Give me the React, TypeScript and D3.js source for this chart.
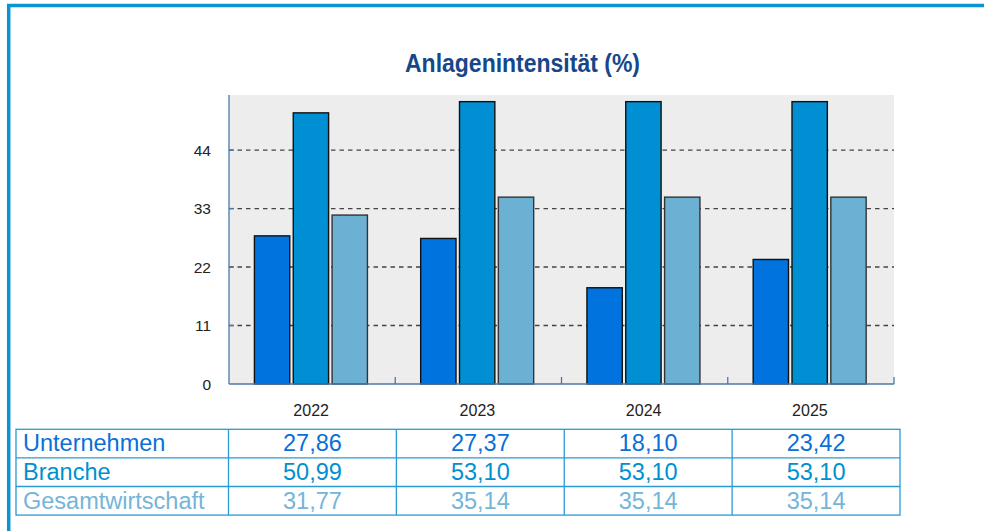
import React from "react";
import * as d3 from "d3";

const years = ["2022", "2023", "2024", "2025"];
const seriesNames = ["Unternehmen", "Branche", "Gesamtwirtschaft"];
const unternehmen = [27.86, 27.37, 18.1, 23.42];
const branche = [50.99, 53.1, 53.1, 53.1];
const gesamtwirtschaft = [31.77, 35.14, 35.14, 35.14];
const yTicks = [0, 11, 22, 33, 44];
const title = "Anlagenintensität (%)";

const seriesValues = [unternehmen, branche, gesamtwirtschaft];
const barColors = ["#0073df", "#008fd2", "#6cb1d4"];
const barStrokes = ["#111", "#111", "#333"];
const textColors = ["#0a6fd8", "#0090d0", "#74b5d8"];

const fmt = (v: number) => v.toFixed(2).replace(".", ",");

export default function App() {
  const W = 984, H = 531;
  const plot = { left: 229, right: 894, top: 95, bottom: 384 };
  const x0 = d3.scaleBand<string>().domain(years).range([plot.left, plot.right]).padding(0);
  const x1 = d3.scaleBand<string>().domain(seriesNames).range([0, 113]).paddingInner(0.09).paddingOuter(0);
  const y = d3.scaleLinear().domain([0, 54.35]).range([plot.bottom, plot.top]);

  const tbl = { left: 16, firstRight: 228.5, right: 900, top: 429.3, rowH: 28.6 };
  const tx = d3.scaleBand<string>().domain(years).range([tbl.firstRight, tbl.right]);
  const axisColor = "#4a78a8";
  const tableColor = "#2a9ad5";

  return (
    <svg width={W} height={H} style={{ position: "absolute", left: 0, top: 0, background: "#fff" }}
      fontFamily="'Liberation Sans', Arial, sans-serif">
      {/* frame */}
      <path d={`M8.7,${H + 5} V5.6 H${W + 5}`} fill="none" stroke="#0a94d4" strokeWidth={3.5} />
      {/* title */}
      <text x={522.5} y={71.5} textAnchor="middle" fontSize={25} fontWeight="bold" fill="#17478a"
        textLength={235} lengthAdjust="spacingAndGlyphs">{title}</text>
      {/* plot background */}
      <rect x={plot.left} y={plot.top} width={plot.right - plot.left} height={plot.bottom - plot.top} fill="#ededed" />
      {/* gridlines */}
      {yTicks.filter(t => t > 0).map(t => (
        <g key={"g" + t}>
          <line x1={plot.left} x2={plot.right} y1={y(t)} y2={y(t)} stroke="#444" strokeWidth={1.3} strokeDasharray="4.5,4" />
          <line x1={plot.left} x2={plot.left + 5} y1={y(t)} y2={y(t)} stroke={axisColor} strokeWidth={1.3} />
        </g>
      ))}
      {/* bars */}
      {years.map((yr, i) => (
        <g key={yr} transform={`translate(${(x0(yr) as number) + x0.bandwidth() / 2 - 56.5 - 1.2},0)`}>
          {seriesNames.map((s, j) => (
            <rect key={s} x={x1(s)} y={y(seriesValues[j][i])} width={x1.bandwidth()}
              height={plot.bottom - y(seriesValues[j][i])} fill={barColors[j]} stroke={barStrokes[j]} strokeWidth={1.4} />
          ))}
        </g>
      ))}
      {/* axes */}
      <line x1={plot.left} x2={plot.left} y1={plot.top} y2={plot.bottom} stroke={axisColor} strokeWidth={1.3} />
      <line x1={plot.left} x2={plot.right} y1={plot.bottom} y2={plot.bottom} stroke={axisColor} strokeWidth={1.3} />
      {years.map(yr => (
        <line key={"t" + yr} x1={(x0(yr) as number) + x0.bandwidth()} x2={(x0(yr) as number) + x0.bandwidth()}
          y1={plot.bottom} y2={plot.bottom - 7} stroke={axisColor} strokeWidth={1.3} />
      ))}
      {yTicks.map(t => (
        <text key={"yl" + t} x={211} y={y(t) + 5.5} textAnchor="end" fontSize={15.5} fill="#222">{t}</text>
      ))}
      {years.map(yr => (
        <text key={"xl" + yr} x={(x0(yr) as number) + x0.bandwidth() / 2 - 1} y={416} textAnchor="middle" fontSize={16} fill="#222">{yr}</text>
      ))}
      {/* table */}
      <rect x={tbl.left} y={tbl.top} width={tbl.right - tbl.left} height={tbl.rowH * 3} fill="none" stroke={tableColor} strokeWidth={1.3} />
      {[1, 2].map(r => (
        <line key={"r" + r} x1={tbl.left} x2={tbl.right} y1={tbl.top + r * tbl.rowH} y2={tbl.top + r * tbl.rowH} stroke={tableColor} strokeWidth={1.3} />
      ))}
      {years.map(yr => (
        <line key={"c" + yr} x1={tx(yr)} x2={tx(yr)} y1={tbl.top} y2={tbl.top + 3 * tbl.rowH} stroke={tableColor} strokeWidth={1.3} />
      ))}
      {seriesNames.map((s, j) => {
        const base = tbl.top + (j + 1) * tbl.rowH - 6.5;
        return (
          <g key={"row" + s} fill={textColors[j]} fontSize={23.5}>
            <text x={23} y={base}>{s}</text>
            {years.map((yr, i) => (
              <text key={yr} x={(tx(yr) as number) + tx.bandwidth() / 2} y={base} textAnchor="middle">{fmt(seriesValues[j][i])}</text>
            ))}
          </g>
        );
      })}
    </svg>
  );
}
